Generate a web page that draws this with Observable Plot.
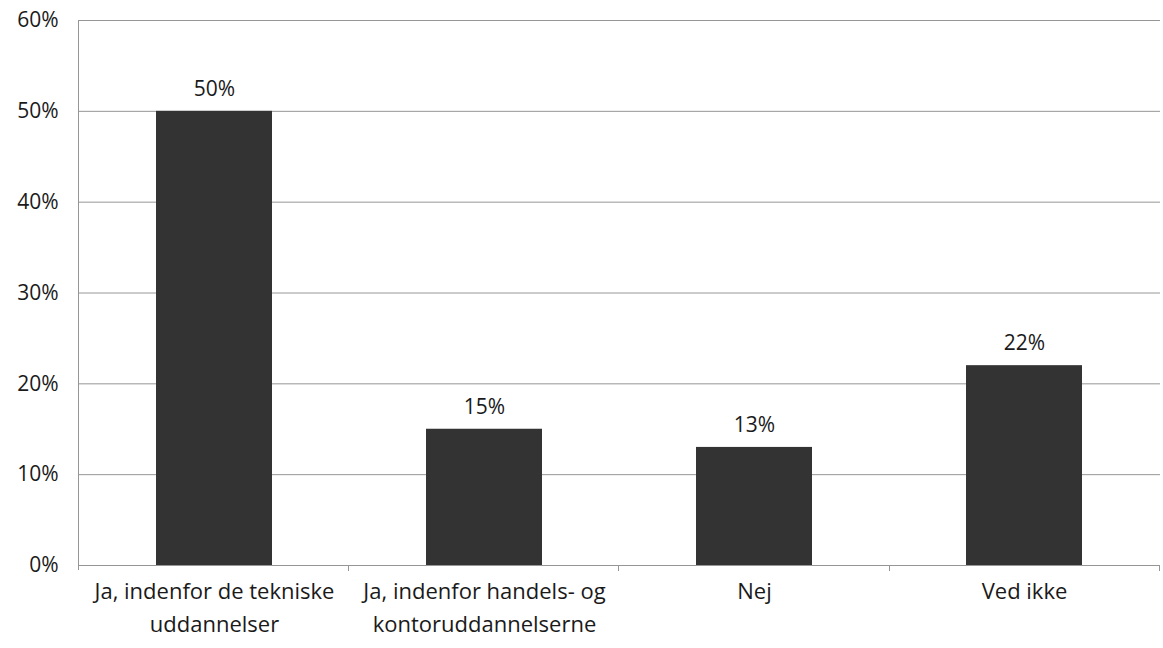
<!DOCTYPE html>
<html>
<head>
<meta charset="utf-8">
<script src="https://cdn.jsdelivr.net/npm/d3@7"></script>
<script src="https://cdn.jsdelivr.net/npm/@observablehq/plot@0.6"></script>
<style>
  html, body { margin: 0; padding: 0; background: #fff; }
  #chart svg { display: block; }
</style>
</head>
<body>
<div id="chart"></div>
<script>
const categories = [
  "Ja, indenfor de tekniske uddannelser",
  "Ja, indenfor handels- og kontoruddannelserne",
  "Nej",
  "Ved ikke"
];
const tickLabels = [
  "Ja, indenfor de tekniske\nuddannelser",
  "Ja, indenfor handels- og\nkontoruddannelserne",
  "Nej",
  "Ved ikke"
];
const values = [0.50, 0.15, 0.13, 0.22];
const valueLabels = ["50%", "15%", "13%", "22%"];
const yTicks = [0, 0.1, 0.2, 0.3, 0.4, 0.5, 0.6];

const data = categories.map((c, i) => ({category: c, value: values[i], label: valueLabels[i]}));
const labelOf = new Map(categories.map((c, i) => [c, tickLabels[i]]));

// left axis line and category boundary ticks, placed from the plot's own dimensions
function axisFrame(index, scales, values, dims) {
  const g = d3.create("svg:g").attr("stroke", "#969696").attr("stroke-width", 1);
  const x0 = dims.marginLeft, x1 = dims.width - dims.marginRight;
  const y0 = dims.height - dims.marginBottom, yTop = dims.marginTop;
  g.append("line").attr("x1", x0 + 0.5).attr("x2", x0 + 0.5).attr("y1", yTop).attr("y2", y0 + 5);
  const step = (x1 - x0) / categories.length;
  for (let i = 1; i <= categories.length; i++) {
    const bx = Math.round(x0 + i * step) - 0.5;
    g.append("line").attr("x1", bx).attr("x2", bx).attr("y1", y0).attr("y2", y0 + 6);
  }
  return g.node();
}

const chart = Plot.plot({
  width: 1163,
  height: 648,
  marginTop: 20,
  marginBottom: 83,
  marginLeft: 78,
  marginRight: 3,
  style: {fontFamily: "'Open Sans', sans-serif", fontSize: "21px", color: "#1a1a1a", background: "#fff"},
  x: {domain: categories, paddingInner: 0.57, paddingOuter: 0.285, align: 0.5, label: null},
  y: {domain: [0, 0.6], ticks: yTicks, label: null},
  marks: [
    Plot.gridY(yTicks, {stroke: "#969696", strokeOpacity: 1, strokeWidth: 1}),
    axisFrame,
    Plot.barY(data, {x: "category", y: "value", fill: "#333333"}),
    Plot.text(data, {x: "category", y: "value", text: "label", dy: -22, fontSize: 21, fill: "#1a1a1a"}),
    Plot.axisY(yTicks, {tickSize: 0, tickPadding: 20, tickFormat: d => Math.round(d * 100) + "%", fontSize: 21, fill: "#1a1a1a", label: null}),
    Plot.axisX({tickSize: 0, tickPadding: 10, tickFormat: d => labelOf.get(d), fontSize: 22, lineHeight: 1.5, fill: "#1a1a1a", label: null})
  ]
});
document.getElementById("chart").appendChild(chart);
</script>
</body>
</html>
